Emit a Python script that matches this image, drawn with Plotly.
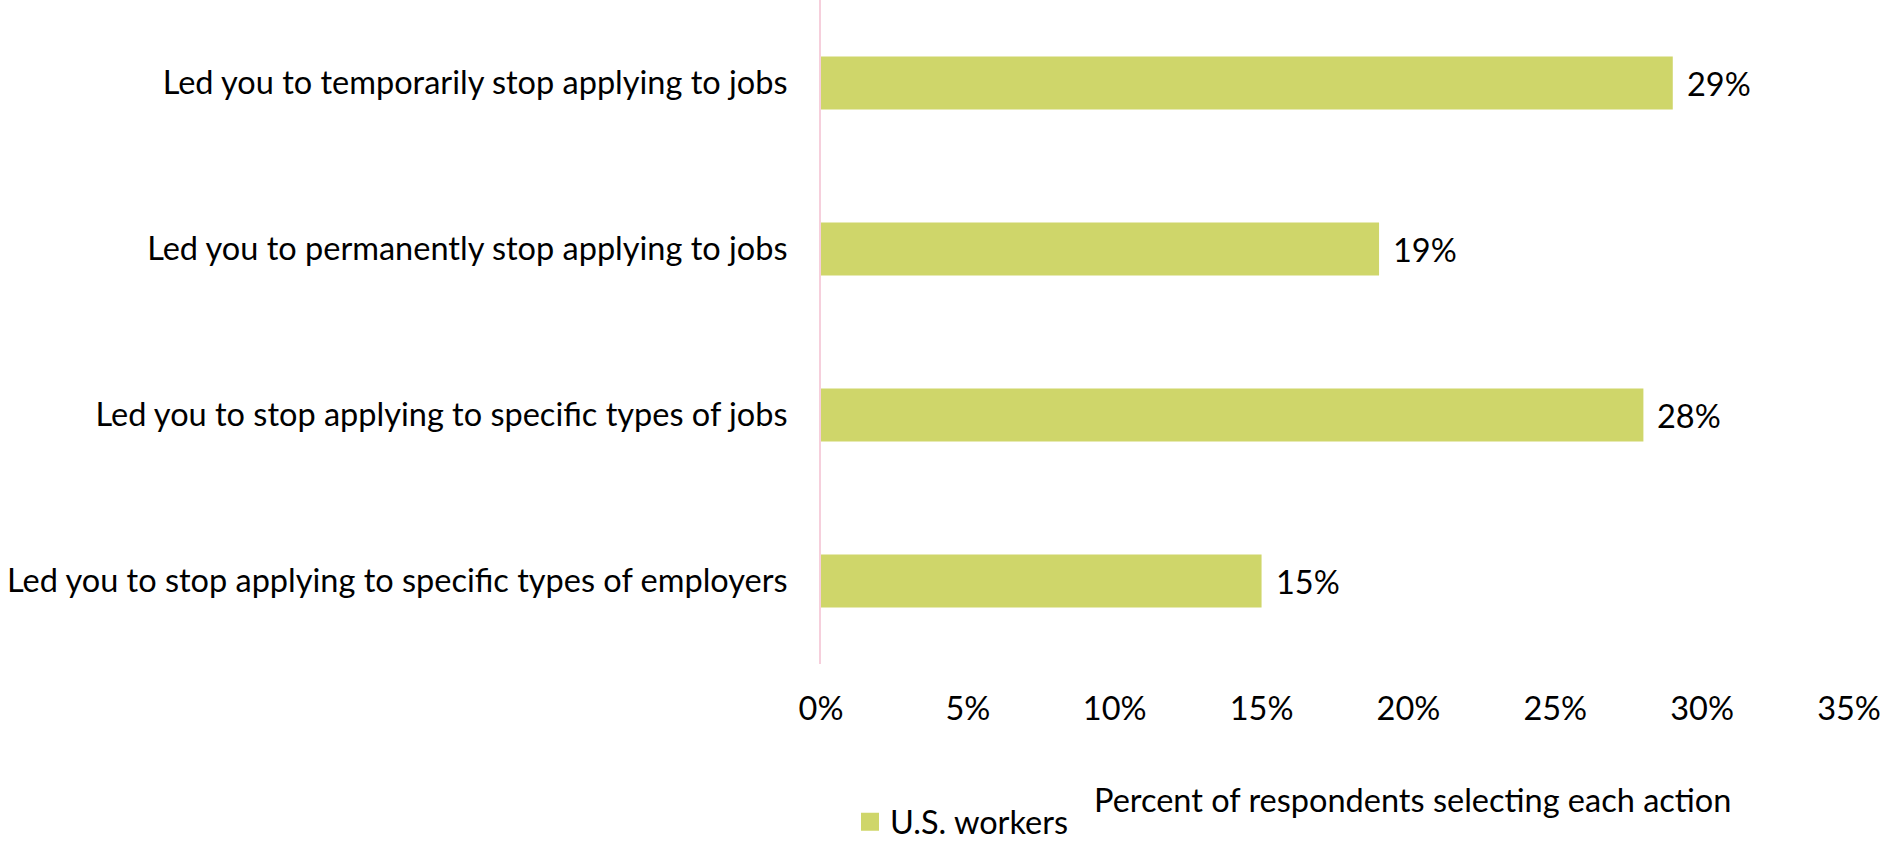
import plotly.graph_objects as go

# Survey results: share of U.S. workers reporting each action
categories = [
    "Led you to temporarily stop applying to jobs",
    "Led you to permanently stop applying to jobs",
    "Led you to stop applying to specific types of jobs",
    "Led you to stop applying to specific types of employers",
]
values = [29, 19, 28, 15]
series_name = "U.S. workers"
tick_values = [0, 5, 10, 15, 20, 25, 30, 35]
tick_labels = [f"{v}%" for v in tick_values]
axis_title = "Percent of respondents selecting each action"

BAR_COLOR = "#CFD66A"
FONT = "Lato"
FONT_SIZE = 32.5

W, H = 1883, 843
L, R, T, B = 821, 34, 0, 179
PW, PH = W - L - R, H - T - B


def px_to_paper_x(px):
    return (px - L) / PW


def px_to_paper_y(py):
    return (H - B - py) / PH


fig = go.Figure()
fig.add_trace(go.Bar(
    x=values,
    y=categories,
    orientation="h",
    name=series_name,
    marker=dict(color=BAR_COLOR, line=dict(width=0)),
    showlegend=False,
    legendgroup="workers",
))
# legend entry with a larger square swatch for the bar series
fig.add_trace(go.Scatter(
    x=[None], y=[None],
    mode="markers",
    name=series_name,
    legendgroup="workers",
    marker=dict(symbol="square", size=16, color=BAR_COLOR,
                line=dict(color=BAR_COLOR, width=2)),
    showlegend=True,
    hoverinfo="skip",
))

# value labels just past the end of each bar
for cat, v in zip(categories, values):
    fig.add_annotation(
        x=v, y=cat, xref="x", yref="y",
        text=f"{v}%", showarrow=False,
        xanchor="left", xshift=12,
        font=dict(family=FONT, size=FONT_SIZE, color="#000000"),
    )

# axis title below the tick labels
fig.add_annotation(
    x=px_to_paper_x(1412), y=px_to_paper_y(799),
    xref="paper", yref="paper",
    text=axis_title, showarrow=False,
    xanchor="center", yanchor="middle",
    font=dict(family=FONT, size=FONT_SIZE, color="#000000"),
)

fig.update_layout(
    width=W, height=H,
    margin=dict(l=L, r=R, t=T, b=B, pad=0, autoexpand=False),
    paper_bgcolor="white",
    plot_bgcolor="white",
    bargap=0.68,
    font=dict(family=FONT, size=FONT_SIZE, color="#000000"),
    legend=dict(
        x=px_to_paper_x(850), xanchor="left",
        y=px_to_paper_y(850), yanchor="bottom",
        orientation="h",
        font=dict(family=FONT, size=FONT_SIZE, color="#000000"),
        bgcolor="rgba(0,0,0,0)",
        itemwidth=30,
    ),
    xaxis=dict(
        range=[0, 35],
        tickvals=tick_values,
        ticktext=tick_labels,
        showgrid=False,
        zeroline=False,
        showline=False,
        ticks="outside",
        ticklen=16,
        tickcolor="rgba(0,0,0,0)",
        tickfont=dict(family=FONT, size=FONT_SIZE, color="#000000"),
        fixedrange=True,
    ),
    yaxis=dict(
        categoryorder="array",
        categoryarray=categories,
        autorange="reversed",
        showgrid=False,
        zeroline=False,
        showline=True,
        linecolor="#F6CFDC",
        linewidth=2,
        ticks="outside",
        ticklen=25,
        tickcolor="rgba(0,0,0,0)",
        tickfont=dict(family=FONT, size=FONT_SIZE, color="#000000"),
        fixedrange=True,
    ),
)

fig.write_html("out.html")
